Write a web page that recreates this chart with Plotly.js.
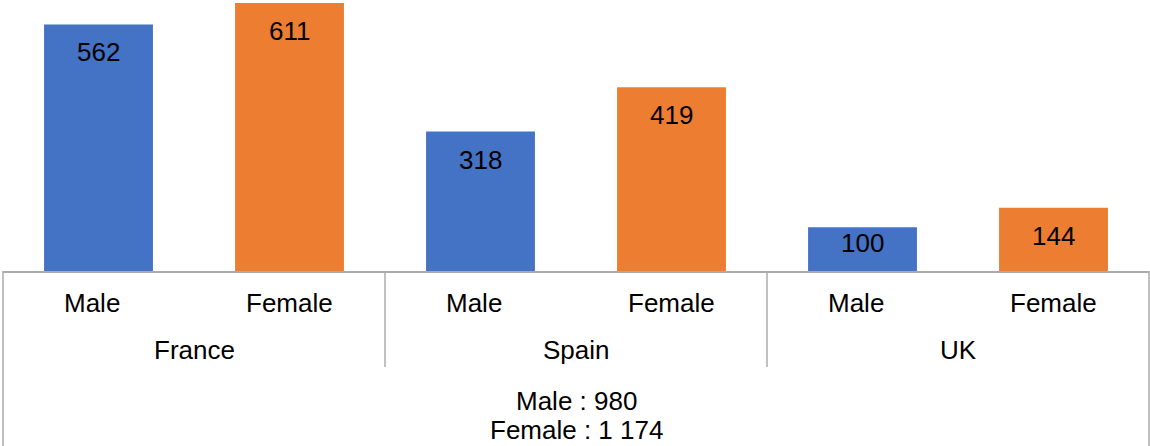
<!DOCTYPE html>
<html>
<head>
<meta charset="utf-8">
<script src="https://cdn.plot.ly/plotly-3.0.1.min.js"></script>
<style>html,body{margin:0;padding:0;background:#fff;}#chart{width:1150px;height:446px;}</style>
</head>
<body>
<div id="chart"></div>
<script>
const countries = ['France', 'Spain', 'UK'];
const genders = ['Male', 'Female'];
const maleValues = [562, 318, 100];
const femaleValues = [611, 419, 144];

const W = 1150, H = 446;
const margin = {l: 3, r: 1, t: 0, b: 175};
const plotH = H - margin.t - margin.b;
const yMax = 617.8;
const FONT = '"Liberation Sans", Arial, sans-serif';
const fs = 26;
const lineColor = '#ABABAB';

function fmt(n) {
  return String(n).replace(/\B(?=(\d{3})+(?!\d))/g, ' ');
}

const traces = [
  {type: 'bar', name: genders[0], x: countries, y: maleValues,
   marker: {color: '#4472C4'}, hoverinfo: 'skip'},
  {type: 'bar', name: genders[1], x: countries, y: femaleValues,
   marker: {color: '#ED7D31'}, hoverinfo: 'skip'}
];

const annotations = [];
const shapes = [];
const series = [maleValues, femaleValues];
series.forEach((vals, g) => {
  const off = g === 0 ? -0.25 : 0.25;
  vals.forEach((v, i) => {
    const barPx = v * plotH / yMax;
    const shift = Math.min(28, barPx - 28);
    annotations.push({
      xref: 'x', yref: 'y', x: i + off, y: v, yanchor: 'middle', xanchor: 'center',
      yshift: -shift, text: String(v), showarrow: false,
      font: {family: FONT, size: fs, color: '#000'}
    });
    annotations.push({
      xref: 'x', yref: 'paper', x: i + off, y: 0, yanchor: 'middle', xanchor: 'center',
      yshift: -32, xshift: g === 0 ? -7 : 0, text: genders[g], showarrow: false,
      font: {family: FONT, size: fs, color: '#000'}
    });
  });
});
countries.forEach((c, i) => {
  annotations.push({
    xref: 'x', yref: 'paper', x: i, y: 0, yanchor: 'middle', xanchor: 'center',
    yshift: -79, text: c, showarrow: false,
    font: {family: FONT, size: fs, color: '#000'}
  });
  if (i > 0) {
    shapes.push({type: 'line', xref: 'x', yref: 'paper', x0: i - 0.5, x1: i - 0.5,
      y0: 0, y1: -96 / plotH, line: {color: lineColor, width: 1.5}});
  }
});
const totalMale = maleValues.reduce((a, b) => a + b, 0);
const totalFemale = femaleValues.reduce((a, b) => a + b, 0);
annotations.push({
  xref: 'paper', yref: 'paper', x: 0.5, y: 0, yanchor: 'middle', xanchor: 'center',
  yshift: -129.5, text: genders[0] + ' : ' + fmt(totalMale), showarrow: false,
  font: {family: FONT, size: fs, color: '#000'}
});
annotations.push({
  xref: 'paper', yref: 'paper', x: 0.5, y: 0, yanchor: 'middle', xanchor: 'center',
  yshift: -159, text: genders[1] + ' : ' + fmt(totalFemale), showarrow: false,
  font: {family: FONT, size: fs, color: '#000'}
});
[0, 1].forEach(px => {
  shapes.push({type: 'line', xref: 'paper', yref: 'paper', x0: px, x1: px,
    y0: 0, y1: -1, line: {color: lineColor, width: 1.5}});
});

const layout = {
  width: W, height: H, margin: margin,
  paper_bgcolor: '#fff', plot_bgcolor: '#fff',
  showlegend: false,
  barmode: 'group', bargap: 0, bargroupgap: 0.43,
  xaxis: {type: 'category', showticklabels: false, ticks: '', showgrid: false,
    showline: true, linecolor: lineColor, linewidth: 1.5, zeroline: false,
    range: [-0.5, 2.5], fixedrange: true},
  yaxis: {range: [0, yMax], visible: false, showgrid: false, zeroline: false, fixedrange: true},
  annotations: annotations,
  shapes: shapes
};

Plotly.newPlot('chart', traces, layout, {displayModeBar: false, staticPlot: true});
</script>
</body>
</html>
